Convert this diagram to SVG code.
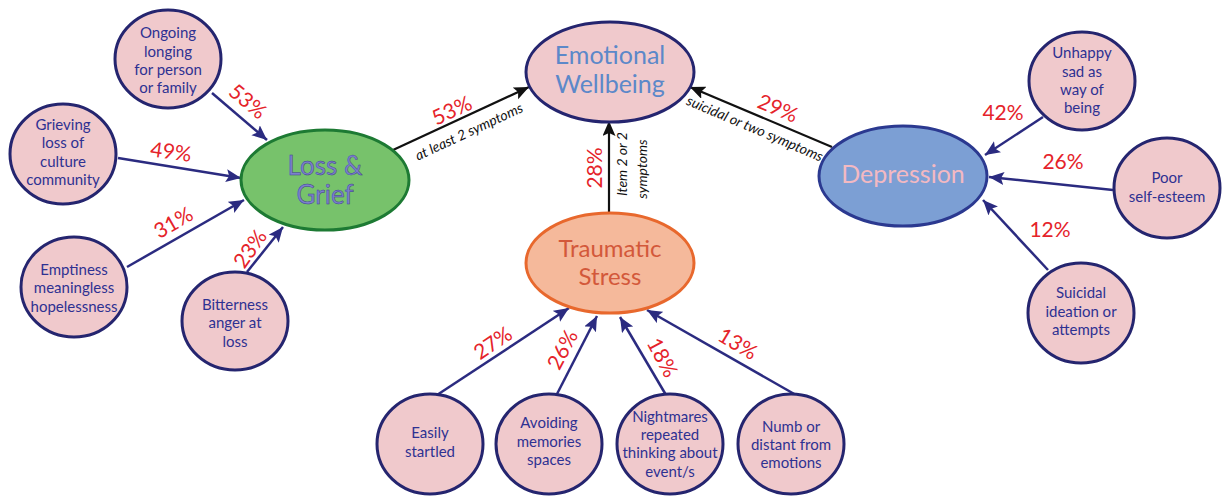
<svg xmlns="http://www.w3.org/2000/svg" width="1224" height="498" viewBox="0 0 1224 498">
<style>
.sym ellipse{fill:#f0c9cc;stroke:#25256f;stroke-width:3}
.sym text{font-family:Lato,"Liberation Sans",sans-serif;font-size:15px;fill:#2e3192;text-anchor:middle}
.big text{font-family:Lato,"Liberation Sans",sans-serif;text-anchor:middle}
.pct{font-family:Lato,"Liberation Sans",sans-serif;font-size:21px;fill:#e5232a;text-anchor:middle}
.note{font-family:Lato,"Liberation Sans",sans-serif;font-style:italic;font-size:14px;fill:#111;text-anchor:middle}
.nv{stroke:#2b2b80;stroke-width:2.5;fill:none;marker-end:url(#an)}
.bk{stroke:#111;stroke-width:2.2;fill:none;marker-end:url(#ab)}
</style>
<defs>
<marker id="an" markerUnits="userSpaceOnUse" markerWidth="16" markerHeight="14" refX="15" refY="6.5" orient="auto">
<path d="M0,0 L15,6.5 L0,13 L3,6.5 z" fill="#2b2b80"/>
</marker>
<marker id="ab" markerUnits="userSpaceOnUse" markerWidth="16" markerHeight="14" refX="15" refY="6.5" orient="auto">
<path d="M0,0 L15,6.5 L0,13 L3,6.5 z" fill="#111"/>
</marker>
</defs>
<rect width="1224" height="498" fill="#fff"/>

<g id="connectors">
<line class="nv" x1="212" y1="93" x2="267" y2="140"/>
<line class="nv" x1="118" y1="158" x2="241" y2="178"/>
<line class="nv" x1="127" y1="267" x2="244" y2="200"/>
<line class="nv" x1="247" y1="272" x2="283" y2="227"/>
<line class="bk" x1="393" y1="150" x2="529" y2="87"/>
<line class="bk" x1="609" y1="213" x2="609" y2="121"/>
<line class="bk" x1="832" y1="147" x2="690" y2="87"/>
<line class="nv" x1="1043" y1="117" x2="985" y2="155"/>
<line class="nv" x1="1113" y1="190" x2="989" y2="177"/>
<line class="nv" x1="1048" y1="270" x2="983" y2="200"/>
<line class="nv" x1="437" y1="395" x2="569" y2="308"/>
<line class="nv" x1="557" y1="394" x2="597" y2="316"/>
<line class="nv" x1="666" y1="395" x2="620" y2="317"/>
<line class="nv" x1="796" y1="395" x2="647" y2="310"/>
</g>

<g id="labels">
<text class="pct" transform="translate(243,107) rotate(40)">53%</text>
<text class="pct" transform="translate(170,159) rotate(8)">49%</text>
<text class="pct" transform="translate(177,229) rotate(-30)">31%</text>
<text class="pct" transform="translate(256,253) rotate(-55)">23%</text>
<text class="pct" transform="translate(455,117) rotate(-25)">53%</text>
<text class="note" transform="translate(471,136) rotate(-25)">at least 2 symptoms</text>
<text class="pct" transform="translate(775,115) rotate(23)">29%</text>
<text class="note" transform="translate(753,133) rotate(23)">suicidal or two symptoms</text>
<text class="pct" transform="translate(602,168) rotate(-90)">28%</text>
<text class="note" transform="translate(627,164) rotate(-90)">Item 2 or 2</text>
<text class="note" transform="translate(647,169) rotate(-90)">symptoms</text>
<text class="pct" x="1003" y="120">42%</text>
<text class="pct" x="1063" y="169">26%</text>
<text class="pct" x="1050" y="237">12%</text>
<text class="pct" transform="translate(497,349) rotate(-34)">27%</text>
<text class="pct" transform="translate(569,353) rotate(-62)">26%</text>
<text class="pct" transform="translate(656,361) rotate(62)">18%</text>
<text class="pct" transform="translate(734,350) rotate(31)">13%</text>
</g>

<g id="ongoing" class="sym"><ellipse cx="168" cy="59" rx="53" ry="49"/>
<text x="168" y="38">Ongoing</text><text x="168" y="57">longing</text><text x="168" y="75">for person</text><text x="168" y="93">or family</text></g>
<g id="grieving" class="sym"><ellipse cx="63" cy="154" rx="53" ry="50"/>
<text x="63" y="130">Grieving</text><text x="63" y="148">loss of</text><text x="63" y="167">culture</text><text x="63" y="185">community</text></g>
<g id="emptiness" class="sym"><ellipse cx="74" cy="287" rx="53" ry="50"/>
<text x="74" y="275">Emptiness</text><text x="74" y="293">meaningless</text><text x="74" y="312">hopelessness</text></g>
<g id="bitterness" class="sym"><ellipse cx="235" cy="321" rx="53" ry="49"/>
<text x="235" y="310">Bitterness</text><text x="235" y="328">anger at</text><text x="235" y="347">loss</text></g>

<g id="loss-grief" class="big"><ellipse cx="325" cy="180" rx="84" ry="50" fill="#77c26b" stroke="#1d7a33" stroke-width="3"/>
<text x="325" y="175" font-size="26" fill="#7c80cc" stroke="#3c3c90" stroke-width="0.45">Loss &amp;</text>
<text x="325" y="204" font-size="26" fill="#7c80cc" stroke="#3c3c90" stroke-width="0.45">Grief</text></g>

<g id="emotional-wellbeing" class="big"><ellipse cx="610" cy="72" rx="84" ry="50" fill="#f0c9cc" stroke="#25256f" stroke-width="3"/>
<text x="610" y="64" font-size="25" fill="#5c88c9">Emotional</text>
<text x="610" y="93" font-size="25" fill="#5c88c9">Wellbeing</text></g>

<g id="traumatic-stress" class="big"><ellipse cx="610" cy="263" rx="84" ry="50" fill="#f5b99b" stroke="#e8682d" stroke-width="3"/>
<text x="610" y="257" font-size="24" fill="#d3583a">Traumatic</text>
<text x="610" y="285" font-size="24" fill="#d3583a">Stress</text></g>

<g id="depression" class="big"><ellipse cx="903" cy="176" rx="84" ry="50" fill="#7c9fd4" stroke="#2b3990" stroke-width="3"/>
<text x="903" y="183" font-size="25" fill="#f3b9c2">Depression</text></g>

<g id="unhappy" class="sym"><ellipse cx="1082" cy="81" rx="53" ry="49"/>
<text x="1082" y="58">Unhappy</text><text x="1082" y="77">sad as</text><text x="1082" y="95">way of</text><text x="1082" y="113">being</text></g>
<g id="poor-self-esteem" class="sym"><ellipse cx="1167" cy="188" rx="53" ry="50"/>
<text x="1167" y="183">Poor</text><text x="1167" y="202">self-esteem</text></g>
<g id="suicidal" class="sym"><ellipse cx="1081" cy="313" rx="53" ry="50"/>
<text x="1081" y="298">Suicidal</text><text x="1081" y="317">ideation or</text><text x="1081" y="335">attempts</text></g>

<g id="easily-startled" class="sym"><ellipse cx="430" cy="444" rx="53" ry="50"/>
<text x="430" y="438">Easily</text><text x="430" y="457">startled</text></g>
<g id="avoiding" class="sym"><ellipse cx="549" cy="444" rx="53" ry="50"/>
<text x="549" y="428">Avoiding</text><text x="549" y="447">memories</text><text x="549" y="465">spaces</text></g>
<g id="nightmares" class="sym"><ellipse cx="670" cy="444" rx="53" ry="50"/>
<text x="670" y="422">Nightmares</text><text x="670" y="440">repeated</text><text x="670" y="458">thinking about</text><text x="670" y="477">event/s</text></g>
<g id="numb" class="sym"><ellipse cx="791" cy="444" rx="53" ry="50"/>
<text x="791" y="432">Numb or</text><text x="791" y="450">distant from</text><text x="791" y="468">emotions</text></g>
</svg>
